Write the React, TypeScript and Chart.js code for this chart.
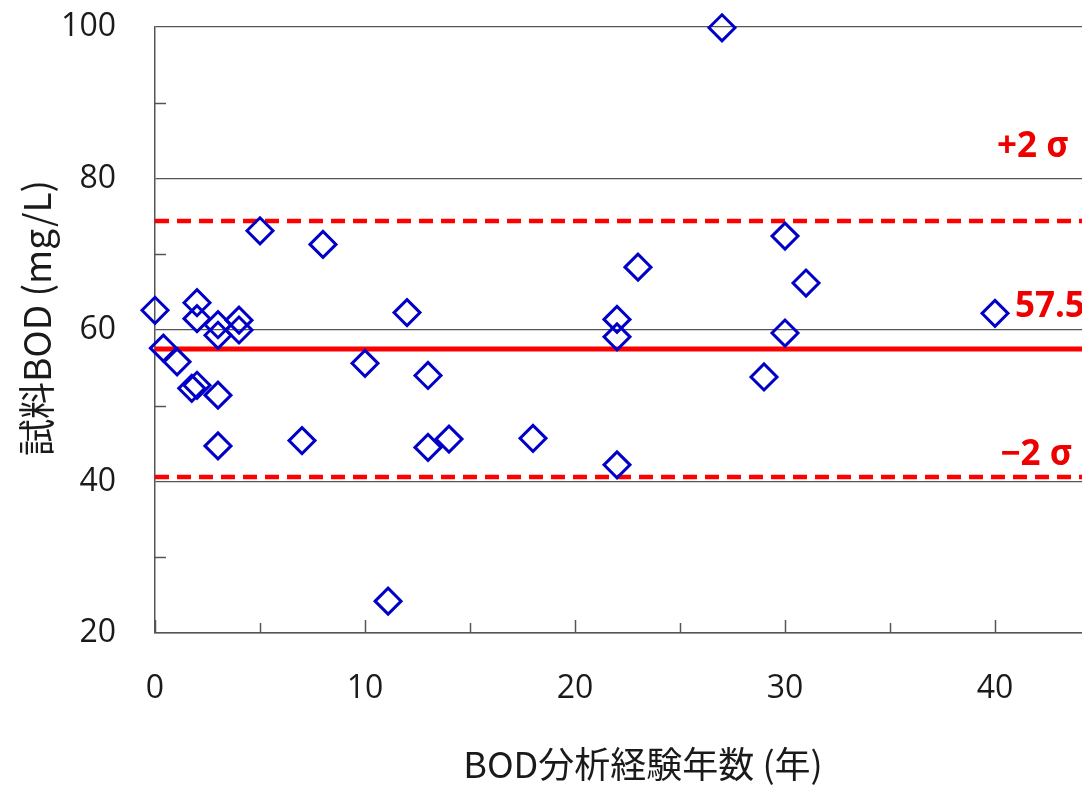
import React, { useEffect, useRef } from "react";
import { Chart, registerables } from "chart.js";

Chart.register(...registerables);

// ---- data ----
const experienceYears = [0, 0.4, 1.05, 2, 2, 3, 3, 4, 4, 1.75, 2, 3, 3, 7, 5, 8, 12, 10, 13, 13, 14, 11.1, 22, 22, 23, 22, 18, 30, 31, 30, 29, 27, 40];
const sampleBOD = [62.6, 57.6, 55.8, 63.6, 61.5, 60.7, 59.3, 61.3, 60.0, 52.3, 52.7, 51.4, 44.7, 45.4, 73.1, 71.3, 62.3, 55.6, 54.0, 44.5, 45.6, 24.2, 61.4, 59.1, 68.3, 42.2, 45.7, 72.4, 66.2, 59.6, 53.8, 99.9, 62.2];

const meanValue = 57.5;
const upperLimit = 74.4; // +2σ
const lowerLimit = 40.6; // −2σ
const lineXRange = [0, 50];

const xTickValues = [0, 10, 20, 30, 40, 50];
const xMinorTicks = [5, 15, 25, 35, 45];
const yTickValues = [20, 40, 60, 80, 100];
const yMinorTicks = [30, 50, 70, 90];

const xTitle = "BOD分析経験年数 (年)";
const yTitle = "試料BOD (mg/L)";
const limitLabels = [
  { text: "+2 σ", x: 40.1, y: 84.2 },
  { text: "57.5", x: 40.95, y: 63.0 },
  { text: "−2 σ", x: 40.25, y: 43.5 },
];

const axisColor = "#555555";
const textColor = "#1a1a1a";

const annotPlugin = {
  id: "annot",
  afterDraw(chart: any) {
    const { ctx, chartArea, scales } = chart;
    const xs = scales.x;
    const ys = scales.y;
    ctx.save();
    ctx.strokeStyle = axisColor;
    ctx.lineWidth = 1.5;
    // inward minor y ticks
    for (const v of yMinorTicks) {
      const py = Math.round(ys.getPixelForValue(v)) + 0.5;
      ctx.beginPath();
      ctx.moveTo(chartArea.left, py);
      ctx.lineTo(chartArea.left + 11, py);
      ctx.stroke();
    }
    // inward x ticks
    for (const v of xTickValues.concat(xMinorTicks)) {
      const px = Math.round(xs.getPixelForValue(v)) + 0.5;
      const len = xMinorTicks.includes(v) ? 10 : 13;
      ctx.beginPath();
      ctx.moveTo(px, chartArea.bottom);
      ctx.lineTo(px, chartArea.bottom - len);
      ctx.stroke();
    }
    // limit labels
    ctx.fillStyle = "#ee0000";
    ctx.font = 'bold 35px "Noto Sans"';
    ctx.textAlign = "left";
    ctx.textBaseline = "middle";
    for (const l of limitLabels) {
      ctx.fillText(l.text, xs.getPixelForValue(l.x), ys.getPixelForValue(l.y));
    }
    // x axis title
    ctx.fillStyle = textColor;
    ctx.font = '36px "Noto Sans CJK JP"';
    ctx.textAlign = "center";
    ctx.fillText(xTitle, chartArea.left + 488, chartArea.bottom + 131);
    // y axis title
    ctx.translate(chartArea.left - 118, (chartArea.top + chartArea.bottom) / 2 - 12);
    ctx.rotate(-Math.PI / 2);
    ctx.font = '37px "Noto Sans CJK JP"';
    ctx.fillText(yTitle, 0, 0);
    ctx.restore();
  },
};

export default function App() {
  const ref = useRef<HTMLCanvasElement | null>(null);
  useEffect(() => {
    if (!ref.current) return;
    const points = experienceYears.map((x, i) => ({ x, y: sampleBOD[i] }));
    const hLine = (v: number) => lineXRange.map((x) => ({ x, y: v }));
    const chart = new Chart(ref.current, {
      type: "scatter",
      data: {
        datasets: [
          {
            type: "line",
            data: hLine(upperLimit),
            borderColor: "#ff0000",
            borderWidth: 4.5,
            borderDash: [14, 8],
            pointRadius: 0,
            order: 3,
          },
          {
            type: "line",
            data: hLine(meanValue),
            borderColor: "#ff0000",
            borderWidth: 5,
            pointRadius: 0,
            order: 3,
          },
          {
            type: "line",
            data: hLine(lowerLimit),
            borderColor: "#ff0000",
            borderWidth: 4.5,
            borderDash: [14, 8],
            pointRadius: 0,
            order: 3,
          },
          {
            data: points,
            pointStyle: "rectRot",
            pointRadius: 13,
            pointBorderWidth: 3,
            borderColor: "#0000c8",
            backgroundColor: "rgba(0,0,0,0)",
            clip: false,
            order: 1,
          } as any,
        ],
      },
      options: {
        animation: false,
        responsive: true,
        maintainAspectRatio: false,
        layout: { padding: { top: 27, right: 55, left: 0, bottom: 0 } },
        plugins: { legend: { display: false }, tooltip: { enabled: false } },
        scales: {
          x: {
            type: "linear",
            min: 0,
            max: 50,
            afterFit: (s: any) => {
              s.height = 158;
              s.paddingLeft = 0;
              s.paddingRight = 0;
            },
            afterBuildTicks: (s: any) => {
              s.ticks = xTickValues.map((v) => ({ value: v }));
            },
            grid: { display: false, drawTicks: false },
            border: { display: true, color: axisColor, width: 1.5 },
            ticks: {
              padding: 37,
              color: textColor,
              font: { family: '"Open Sans"', size: 32 },
              maxRotation: 0,
            },
          },
          y: {
            min: 20,
            max: 100,
            afterFit: (s: any) => {
              s.width = 155;
              s.paddingTop = 0;
              s.paddingBottom = 0;
            },
            afterBuildTicks: (s: any) => {
              s.ticks = yTickValues.map((v) => ({ value: v }));
            },
            grid: { color: axisColor, lineWidth: 1.3, drawTicks: false },
            border: { display: true, color: axisColor, width: 1.5 },
            ticks: {
              padding: 39,
              color: textColor,
              font: { family: '"Open Sans"', size: 32 },
            },
          },
        },
      },
      plugins: [annotPlugin],
    });
    return () => chart.destroy();
  }, []);

  return (
    <div
      style={{
        position: "fixed",
        left: 0,
        top: 0,
        width: 1082,
        height: 791,
        overflow: "hidden",
        background: "#fff",
      }}
    >
      <div style={{ position: "relative", width: 1260, height: 791 }}>
        <canvas ref={ref} />
      </div>
    </div>
  );
}
